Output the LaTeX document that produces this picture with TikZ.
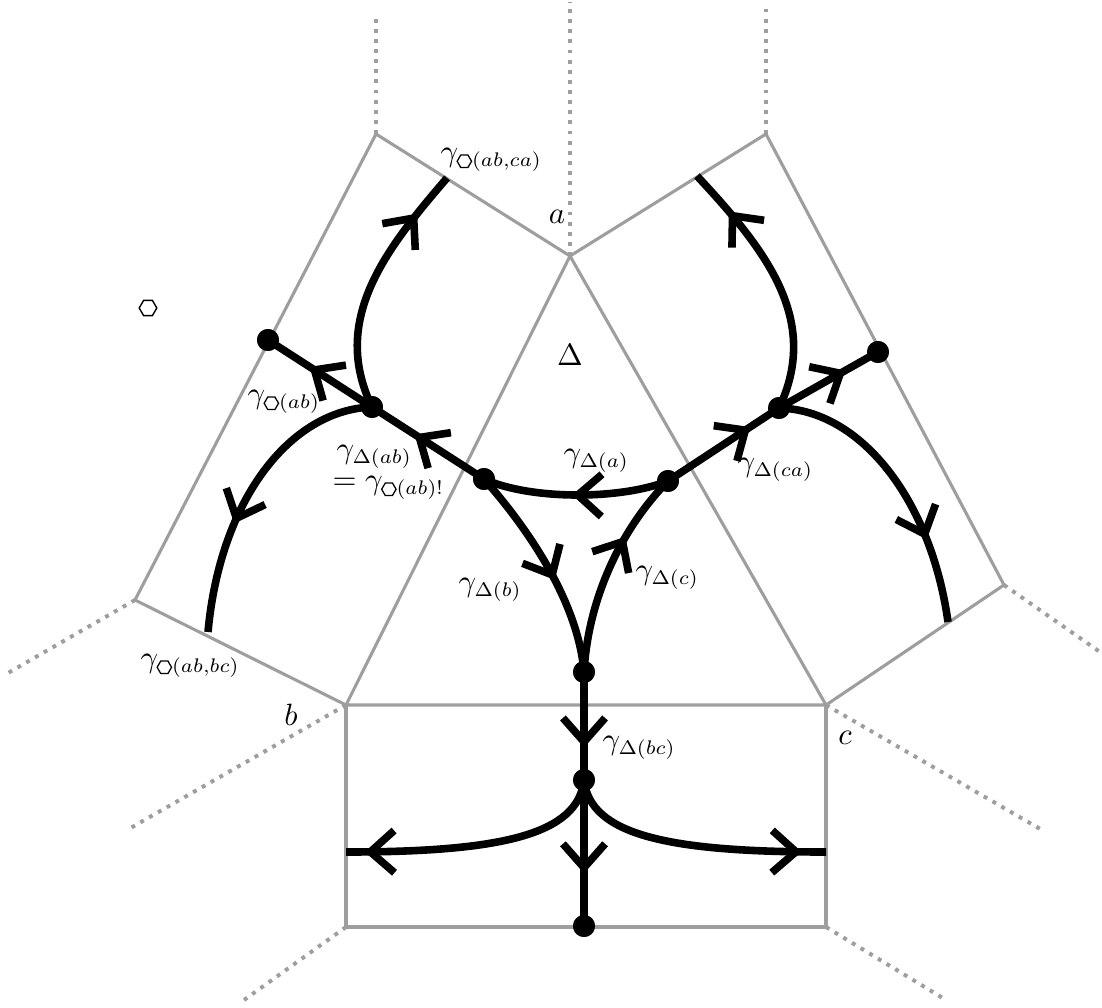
\documentclass[tikz,border=0pt]{standalone}
\usetikzlibrary{arrows.meta,decorations.markings}

\newcommand{\hexsub}{\tikz[baseline={(0,-1.85pt)},x=1cm,y=1cm]\draw[black,solid,line width=0.45pt] (0:0.09) -- (60:0.09) -- (120:0.09) -- (180:0.09) -- (240:0.09) -- (300:0.09) -- cycle;}
\newcommand{\hexbig}{\tikz[baseline={(0,-2.5pt)},x=1cm,y=1cm]\draw[black,solid,line width=0.5pt] (0:0.11) -- (60:0.11) -- (120:0.11) -- (180:0.11) -- (240:0.11) -- (300:0.11) -- cycle;}

\tikzset{
  gline/.style={draw=black!38, line width=1.1pt, line join=miter},
  dline/.style={draw=black!38, line width=1.4pt, dash pattern=on 1.4pt off 2.2pt},
  cur/.style={draw=black, line width=2.7pt},
  mk/.style={postaction={decorate}, decoration={markings, mark=at position #1 with {\arrow{Straight Barb[length=8.5pt,width=15pt,sharp]}}}},
  dot/.style={circle, fill=black, inner sep=0pt, minimum size=7.8pt},
  lbl/.style={inner sep=0pt, font=\fontsize{10.7}{13}\selectfont}
}

\begin{document}
\begin{tikzpicture}[x=0.0125cm,y=-0.0125cm]
\useasboundingbox (0,0) rectangle (1102,1007);

% polygon vertices
\coordinate (A) at (570,256);
\coordinate (B) at (346,705);
\coordinate (C) at (826,705);
\coordinate (P1) at (376,134);
\coordinate (P2) at (135,600);
\coordinate (P3) at (766,134);
\coordinate (P4) at (1004,585);
\coordinate (Q1) at (346,927);
\coordinate (Q2) at (826,927);
% dotted ends
\coordinate (T1) at (376,15);
\coordinate (T2) at (570,2);
\coordinate (T3) at (766,6);
\coordinate (T4) at (8,673);
\coordinate (T5) at (127,830);
\coordinate (T6) at (244,1000);
\coordinate (T7) at (1042,830);
\coordinate (T8) at (946,1000);
\coordinate (T9) at (1100,652);

% gray cells
\draw[gline] (A) -- (B) -- (C) -- cycle;
\draw[gline] (B) -- (Q1) -- (Q2) -- (C);
\draw[gline] (A) -- (P1) -- (P2) -- (B);
\draw[gline] (A) -- (P3) -- (P4) -- (C);
% dotted continuations
\draw[dline] (P1) -- (T1);
\draw[dline] (A) -- (T2);
\draw[dline] (P3) -- (T3);
\draw[dline] (P2) -- (T4);
\draw[dline] (B) -- (T5);
\draw[dline] (Q1) -- (T6);
\draw[dline] (C) -- (T7);
\draw[dline] (Q2) -- (T8);
\draw[dline] (P4) -- (T9);

% dots (nodes)
\node[dot] (d1) at (268,340) {};
\node[dot] (d2) at (372,407) {};
\node[dot] (d3) at (484,479) {};
\node[dot] (d4) at (668,481) {};
\node[dot] (d5) at (779,408) {};
\node[dot] (d6) at (878,352) {};
\node[dot] (d7) at (584,672) {};
\node[dot] (d8) at (584,780) {};
\node[dot] (d9) at (584,926) {};
% free ends
\coordinate (e1) at (447,178);
\coordinate (e2) at (208,632);
\coordinate (e3) at (697,176);
\coordinate (e4) at (948,622);
\coordinate (e5) at (346,852);
\coordinate (e6) at (826,852);

% black flow lines
\draw[cur,mk=0.82] (d2.center) .. controls (330,320) and (385,250) .. (e1);
\draw[cur,mk=0.63] (d2.center) .. controls (290,410) and (220,500) .. (e2);
\draw[cur,mk=0.82] (d5.center) .. controls (821,320) and (766,250) .. (e3);
\draw[cur,mk=0.71] (d5.center) .. controls (861,410) and (931,500) .. (e4);
\draw[cur,mk=0.6] (d2.center) -- (d1.center);
\draw[cur,mk=0.62] (d3.center) -- (d2.center);
\draw[cur,mk=0.52] (d4.center) .. controls (620,500) and (530,500) .. (d3.center);
\draw[cur,mk=0.56] (d3.center) .. controls (525,525) and (578,600) .. (d7.center);
\draw[cur,mk=0.67] (d7.center) .. controls (588,600) and (620,530) .. (d4.center);
\draw[cur,mk=0.74] (d4.center) -- (d5.center);
\draw[cur,mk=0.67] (d5.center) -- (d6.center);
\draw[cur,mk=0.7] (d7.center) -- (d8.center);
\draw[cur,mk=0.64] (d8.center) -- (d9.center);
\draw[cur,mk=0.93] (d8.center) .. controls (578,835) and (500,852) .. (e5);
\draw[cur,mk=0.91] (d8.center) .. controls (590,835) and (668,852) .. (e6);

% redraw dots on top
\foreach \n in {d1,d2,d3,d4,d5,d6,d7,d8,d9}
  \fill (\n) circle (3.9pt);

% labels
\node[lbl,anchor=west] (l1) at (440,160) {$\gamma_{\hexsub(ab,ca)}$};
\node[lbl] (la) at (557,217) {$a$};
\node[lbl] (lhex) at (148,308) {\hexbig};
\node[lbl] (lDelta) at (570,355) {$\Delta$};
\node[lbl,anchor=west] (l2) at (247,402) {$\gamma_{\hexsub(ab)}$};
\node[lbl,anchor=west] (l3) at (336,457) {$\gamma_{\Delta(ab)}$};
\node[lbl,anchor=west] (l4) at (332,488) {$=\gamma_{\hexsub(ab)!}$};
\node[lbl,anchor=west] (l5) at (563,461) {$\gamma_{\Delta(a)}$};
\node[lbl,anchor=west] (l6) at (737,470) {$\gamma_{\Delta(ca)}$};
\node[lbl,anchor=west] (l7) at (635,578) {$\gamma_{\Delta(c)}$};
\node[lbl,anchor=west] (l8) at (458,590) {$\gamma_{\Delta(b)}$};
\node[lbl,anchor=west] (l9) at (140,666) {$\gamma_{\hexsub(ab,bc)}$};
\node[lbl] (lb) at (291,715) {$b$};
\node[lbl] (lc) at (845,738) {$c$};
\node[lbl,anchor=west] (l10) at (602,748) {$\gamma_{\Delta(bc)}$};
\end{tikzpicture}
\end{document}
